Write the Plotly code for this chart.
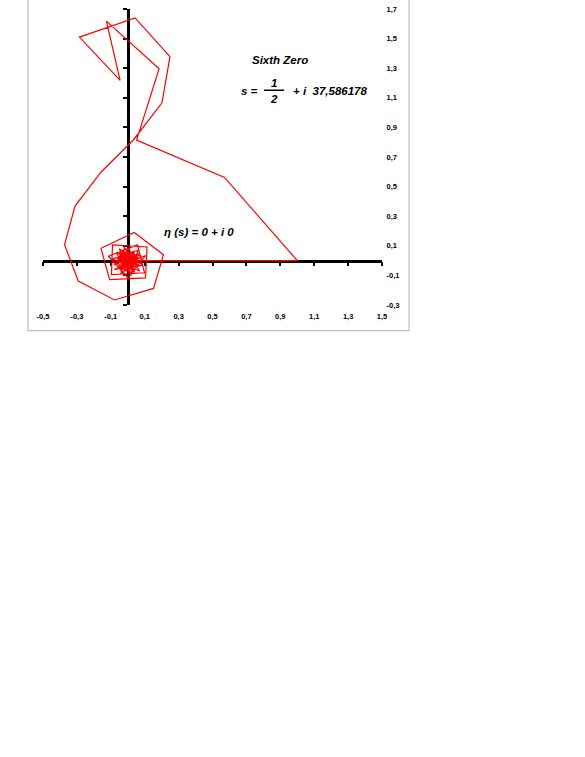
import plotly.graph_objects as go

# partial sums of eta(s) for s = 1/2 + i 37,586178
re_part = [
    0.0, 1.0, 0.571, 0.052, 0.185, -0.126, -0.045, -0.285, 0.043, 0.249,
    0.202, 0.033, -0.157, -0.311, -0.373, -0.292, -0.078, 0.152, 0.211, 0.038,
    -0.158, -0.107, 0.105, 0.114, -0.090, -0.096, 0.099, 0.058, -0.114, 0.001,
    0.105, -0.08, 0.09, -0.05, 0.02, 0.06, -0.09, 0.07, -0.02, -0.04,
    0.08, -0.07, 0.04, 0.01, -0.08, 0.07, -0.04, -0.03, 0.07, -0.06,
    0.03, 0.02, -0.06, 0.06, -0.03, -0.02, 0.06, -0.05, 0.04, -0.01,
    -0.06, 0.05, -0.05, 0.03, 0.05, -0.06, 0.04, -0.02, -0.04, 0.06,
    -0.05, 0.03, 0.01, -0.06, 0.05, -0.03, 0.00, 0.05, -0.05, 0.02,
    0.03, -0.05, 0.04, -0.02, -0.03, 0.05, -0.04, 0.01, 0.03, -0.05,
    0.04, -0.01, -0.03, 0.04, -0.04, 0.02, 0.02, -0.04, 0.03, -0.01,
    -0.03, 0.03, -0.02, 0.01, 0.03, -0.03, 0.02, -0.01, -0.02, 0.02,
    -0.01, 0.01, 0.00,
]
im_part = [
    0.0, 0.0, 0.562, 0.814, 1.296, 1.618, 1.218, 1.510, 1.640, 1.378,
    1.066, 0.815, 0.599, 0.368, 0.108, -0.138, -0.266, -0.188, 0.040, 0.190,
    0.083, -0.129, -0.117, 0.092, 0.106, -0.094, -0.082, 0.106, 0.030, -0.116,
    0.034, -0.06, -0.03, 0.08, -0.10, 0.07, 0.01, -0.07, 0.09, -0.09,
    0.03, 0.05, -0.08, 0.08, -0.03, 0.05, -0.07, 0.07, -0.04, 0.02,
    0.06, -0.08, -0.04, 0.02, 0.06, -0.07, -0.03, 0.04, 0.05, -0.07,
    -0.02, 0.03, 0.05, -0.06, 0.04, 0.00, -0.06, 0.05, -0.05, -0.01,
    0.04, 0.05, -0.07, 0.01, 0.02, -0.05, 0.06, -0.03, 0.02, 0.04,
    -0.06, -0.01, 0.03, -0.05, 0.05, 0.00, -0.04, 0.05, -0.04, 0.02,
    0.02, -0.05, 0.03, 0.01, -0.02, 0.04, -0.04, 0.00, 0.03, -0.04,
    0.01, 0.01, 0.03, -0.03, 0.01, 0.02, -0.02, 0.02, -0.01, 0.00,
    -0.02, 0.01, 0.00,
]

x_ticks = [-0.5, -0.3, -0.1, 0.1, 0.3, 0.5, 0.7, 0.9, 1.1, 1.3, 1.5]
x_labels = ['-0,5', '-0,3', '-0,1', '0,1', '0,3', '0,5', '0,7', '0,9', '1,1', '1,3', '1,5']
y_ticks = [-0.3, -0.1, 0.1, 0.3, 0.5, 0.7, 0.9, 1.1, 1.3, 1.5, 1.7]
y_labels = ['-0,3', '-0,1', '0,1', '0,3', '0,5', '0,7', '0,9', '1,1', '1,3', '1,5', '1,7']

x_range = [-0.5, 1.5]
y_range = [-0.3, 1.7]

FONT = 'Liberation Sans, Arial, sans-serif'

fig = go.Figure()

fig.add_trace(go.Scatter(
    x=re_part, y=im_part,
    mode='lines',
    line=dict(color='#ff0000', width=1.2),
    hoverinfo='skip',
))

# dummy trace so the label axes get drawn
fig.add_trace(go.Scatter(
    x=[x_ticks[0]], y=[y_ticks[0]],
    xaxis='x2', yaxis='y2',
    mode='markers', marker=dict(opacity=0),
    hoverinfo='skip',
))

# axes crossing at the origin (lines + ticks only)
zero_x = (0 - y_range[0]) / (y_range[1] - y_range[0])
zero_y = (0 - x_range[0]) / (x_range[1] - x_range[0])

fig.update_layout(
    width=585, height=757,
    margin=dict(l=43, r=203, t=5, b=452),
    paper_bgcolor='white', plot_bgcolor='white',
    showlegend=False,
    font=dict(family=FONT, color='black'),
    xaxis=dict(
        range=x_range, anchor='free', position=zero_x,
        showline=True, linecolor='black', linewidth=2.5,
        ticks='outside', ticklen=4, tickwidth=2, tickcolor='black',
        tickvals=x_ticks, showticklabels=False,
        showgrid=False, zeroline=False, layer='below traces',
    ),
    yaxis=dict(
        range=y_range, anchor='free', position=zero_y,
        showline=True, linecolor='black', linewidth=2.5,
        ticks='outside', ticklen=4, tickwidth=2, tickcolor='black',
        tickvals=y_ticks, showticklabels=False,
        showgrid=False, zeroline=False, layer='below traces',
    ),
    xaxis2=dict(
        range=x_range, overlaying='x', anchor='y2', side='bottom',
        tickvals=x_ticks, ticktext=x_labels,
        tickfont=dict(size=7.5, weight='bold'),
        ticks='outside', ticklen=4, tickcolor='rgba(0,0,0,0)',
        showline=False, showgrid=False, zeroline=False,
    ),
    yaxis2=dict(
        range=y_range, overlaying='y', anchor='x2', side='right',
        tickvals=y_ticks, ticktext=y_labels,
        tickfont=dict(size=7.5, weight='bold'),
        ticks='outside', ticklen=2, tickcolor='rgba(0,0,0,0)',
        ticklabeloverflow='allow',
        showline=False, showgrid=False, zeroline=False,
    ),
)

# chart area border (top edge is cut off in the original)
fig.add_shape(type='rect', xref='paper', yref='paper',
              x0=-0.0442, x1=1.0796, y0=-0.0867, y1=1.06,
              line=dict(color='#bfbfbf', width=1.2), layer='below')

ann_font = dict(family=FONT, size=11.5, color='black', weight='bold', style='italic')

fig.add_annotation(x=0.896, y=1.355, text='Sixth Zero', showarrow=False,
                   font=ann_font)
fig.add_annotation(x=0.72, y=1.145, text='s =', showarrow=False, font=ann_font)
fig.add_annotation(x=0.863, y=1.2, text='1', showarrow=False, font=ann_font)
fig.add_annotation(x=0.863, y=1.095, text='2', showarrow=False, font=ann_font)
fig.add_shape(type='line', xref='x', yref='y', x0=0.804, x1=0.923, y0=1.151, y1=1.151,
              line=dict(color='black', width=1.5))
fig.add_annotation(x=0.962, y=1.145, text='+ i  37,586178', showarrow=False,
                   xanchor='left', font=ann_font)
fig.add_annotation(x=0.421, y=0.195, text='\u03b7 (s) = 0 + i 0', showarrow=False,
                   font=ann_font)

# page has no body margin in the original, so drop the browser default
fig.write_html('out.html', config={'displayModeBar': False},
               post_script="document.body.style.margin = '0';")
